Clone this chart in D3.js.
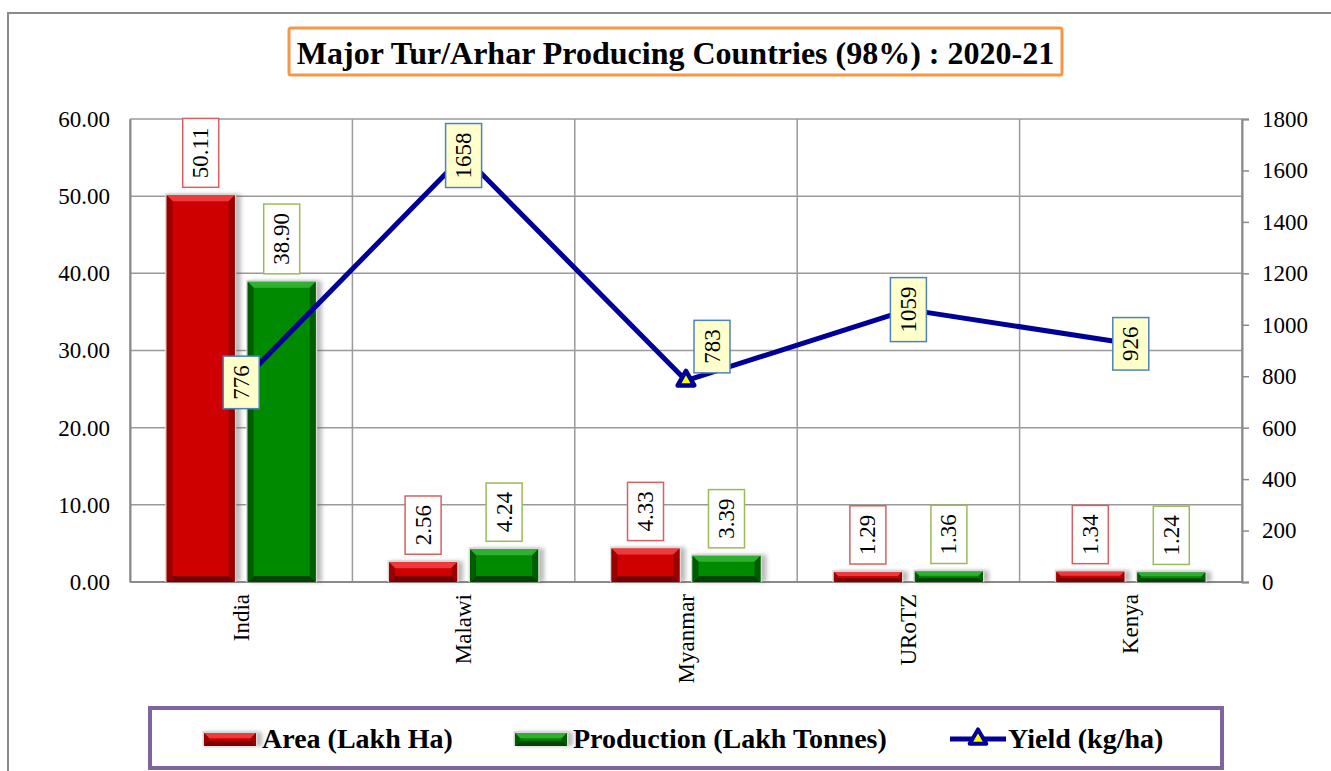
<!DOCTYPE html>
<html><head><meta charset="utf-8">
<script src="https://cdn.jsdelivr.net/npm/d3@7"></script>
<style>html,body{margin:0;padding:0;background:#fff;} svg{display:block;font-family:"Liberation Serif","Times New Roman",serif;}</style>
</head><body>
<svg id="chart" width="1331" height="771"></svg>
<script>
const titleText = "Major Tur/Arhar Producing Countries (98%) : 2020-21";
const countries = ["India", "Malawi", "Myanmar", "URoTZ", "Kenya"];
const areaValues = [50.11, 2.56, 4.33, 1.29, 1.34];
const productionValues = [38.90, 4.24, 3.39, 1.36, 1.24];
const yieldValues = [776, 1658, 783, 1059, 926];
const leftTicks = [0, 10, 20, 30, 40, 50, 60];
const rightTicks = [0, 200, 400, 600, 800, 1000, 1200, 1400, 1600, 1800];
const seriesNames = ["Area (Lakh Ha)", "Production (Lakh Tonnes)", "Yield (kg/ha)"];

const svg = d3.select("#chart");
const plot = {left: 130, right: 1242, top: 119, bottom: 582};

// outer frame
svg.append("rect").attr("x", 8).attr("y", 13).attr("width", 1400).attr("height", 900)
  .attr("fill", "none").attr("stroke", "#8a8a8a").attr("stroke-width", 2);

const x = d3.scaleBand().domain(countries).range([plot.left, plot.right]).padding(0);
const xSub = d3.scaleBand().domain(["area", "prod"]).range([0, x.bandwidth()]).paddingInner(0.16).paddingOuter(0.453);
const yL = d3.scaleLinear().domain([0, 60]).range([plot.bottom, plot.top]);
const yR = d3.scaleLinear().domain([0, 1800]).range([plot.bottom, plot.top]);

const defs = svg.append("defs");
const blur = defs.append("filter").attr("id", "shadow").attr("x", "-30%").attr("y", "-30%").attr("width", "160%").attr("height", "160%");
blur.append("feGaussianBlur").attr("stdDeviation", 2);

// gridlines
const grid = svg.append("g");
grid.selectAll("line.h").data(leftTicks).join("line")
  .attr("x1", plot.left).attr("x2", plot.right)
  .attr("y1", d => yL(d)).attr("y2", d => yL(d))
  .attr("stroke", "#9a9a9a").attr("stroke-width", 1.5);
grid.selectAll("line.v").data(countries.concat(["__end"])).join("line")
  .attr("x1", (d, i) => i < countries.length ? x(d) : plot.right)
  .attr("x2", (d, i) => i < countries.length ? x(d) : plot.right)
  .attr("y1", plot.top).attr("y2", plot.bottom)
  .attr("stroke", "#9a9a9a").attr("stroke-width", 1.5);

// axes
const axL = svg.append("g").attr("transform", `translate(${plot.left},0)`)
  .call(d3.axisLeft(yL).tickValues(leftTicks).tickSize(0).tickPadding(20).tickFormat(d3.format(".2f")));
const axR = svg.append("g").attr("transform", `translate(${plot.right},0)`)
  .call(d3.axisRight(yR).tickValues(rightTicks).tickSize(7).tickPadding(13).tickFormat(d3.format("d")));
[axL, axR].forEach(a => {
  a.attr("font-family", "Liberation Serif");
  a.select(".domain").attr("stroke", "#8a8a8a").attr("stroke-width", 2);
  a.selectAll(".tick line").attr("stroke", "#8a8a8a").attr("stroke-width", 1.5);
  a.selectAll("text").attr("font-family", "Liberation Serif").attr("font-size", 23).attr("fill", "#000");
});
// bottom axis line
svg.append("line").attr("x1", plot.left).attr("x2", plot.right).attr("y1", plot.bottom).attr("y2", plot.bottom)
  .attr("stroke", "#8a8a8a").attr("stroke-width", 2);

// category labels
svg.append("g").selectAll("text").data(countries).join("text")
  .attr("transform", d => `translate(${x(d) + x.bandwidth() / 2},594) rotate(-90)`)
  .attr("text-anchor", "end").attr("dominant-baseline", "central")
  .attr("font-size", 23).attr("fill", "#000").text(d => d);

// bars with bevel
const palettes = {
  area: {main: "#cf0000", top: "#ee3a3a", side: "#9a0000", bottom: "#7a0000", label: "#d86060"},
  prod: {main: "#008a00", top: "#30b030", side: "#005c00", bottom: "#004400", label: "#9bbb59"}
};
function drawBar(g, x0, w, yTop, yBot, pal) {
  const h = yBot - yTop;
  g.append("rect").attr("x", x0 + 2).attr("y", yTop - 1).attr("width", w + 4).attr("height", h + 1)
    .attr("fill", "#666").attr("opacity", 0.45).attr("filter", "url(#shadow)");
  g.append("rect").attr("x", x0 - 1.5).attr("y", yTop - 2).attr("width", w + 3).attr("height", h + 2)
    .attr("fill", "#d8d8d8");
  g.append("rect").attr("x", x0).attr("y", yTop).attr("width", w).attr("height", h).attr("fill", pal.main);
  const b = Math.min(6, h / 2.5);
  const x1 = x0 + w, pts = (a) => a.map(p => p.join(",")).join(" ");
  g.append("polygon").attr("points", pts([[x0, yTop], [x1, yTop], [x1 - b, yTop + b], [x0 + b, yTop + b]])).attr("fill", pal.top);
  g.append("polygon").attr("points", pts([[x0, yTop], [x0 + b, yTop + b], [x0 + b, yBot - b], [x0, yBot]])).attr("fill", pal.side);
  g.append("polygon").attr("points", pts([[x1, yTop], [x1 - b, yTop + b], [x1 - b, yBot - b], [x1, yBot]])).attr("fill", pal.side);
  g.append("polygon").attr("points", pts([[x0, yBot], [x0 + b, yBot - b], [x1 - b, yBot - b], [x1, yBot]])).attr("fill", pal.bottom);
}
const barsG = svg.append("g");
countries.forEach((c, i) => {
  drawBar(barsG, x(c) + xSub("area"), xSub.bandwidth(), yL(areaValues[i]), yL(0), palettes.area);
  drawBar(barsG, x(c) + xSub("prod"), xSub.bandwidth(), yL(productionValues[i]), yL(0), palettes.prod);
});

// rotated label boxes
function labelBox(g, cx, cy, text, stroke, fill, anchorBottom) {
  const grp = g.append("g");
  const t = grp.append("text").attr("font-size", 23).attr("fill", "#000")
    .attr("text-anchor", "middle").attr("dominant-baseline", "central").text(text);
  const len = t.node().getComputedTextLength();
  const bh = len + 18, bw = 36;
  const centerY = anchorBottom ? cy - bh / 2 : cy;
  grp.insert("rect", "text").attr("x", cx - bw / 2).attr("y", centerY - bh / 2).attr("width", bw).attr("height", bh)
    .attr("fill", fill).attr("stroke", stroke).attr("stroke-width", 1.5);
  t.attr("transform", `translate(${cx},${centerY}) rotate(-90)`);
}
const labG = svg.append("g");
countries.forEach((c, i) => {
  labelBox(labG, x(c) + xSub("area") + xSub.bandwidth() / 2, yL(areaValues[i]) - 8, d3.format(".2f")(areaValues[i]), palettes.area.label, "#fff", true);
  labelBox(labG, x(c) + xSub("prod") + xSub.bandwidth() / 2, yL(productionValues[i]) - 8, d3.format(".2f")(productionValues[i]), palettes.prod.label, "#fff", true);
});

// yield line
const cx = c => x(c) + x.bandwidth() / 2;
const lineColor = "#000099";
svg.append("path").datum(yieldValues)
  .attr("d", d3.line().x((d, i) => cx(countries[i])).y(d => yR(d)))
  .attr("fill", "none").attr("stroke", lineColor).attr("stroke-width", 5).attr("stroke-linejoin", "round");
const tri = d3.symbol().type(d3.symbolTriangle).size(120);
svg.append("g").selectAll("path").data(yieldValues).join("path")
  .attr("transform", (d, i) => `translate(${cx(countries[i])},${yR(d)})`)
  .attr("d", tri).attr("fill", "#ffff00").attr("stroke", lineColor).attr("stroke-width", 4.5).attr("stroke-linejoin", "round");

// yield labels (Myanmar label was moved right/up in the original)
const yieldLabelShift = {Myanmar: [26, -34]};
const yLabG = svg.append("g");
countries.forEach((c, i) => {
  const s = yieldLabelShift[c] || [0, 0];
  labelBox(yLabG, cx(c) + s[0], yR(yieldValues[i]) + s[1], String(yieldValues[i]), "#4f81bd", "#ffffcc", false);
});

// title
svg.append("rect").attr("x", 289).attr("y", 28).attr("width", 773).attr("height", 47).attr("rx", 2)
  .attr("fill", "#fff").attr("stroke", "#f79646").attr("stroke-width", 3);
svg.append("text").attr("x", 675.5).attr("y", 64).attr("text-anchor", "middle")
  .attr("font-size", 32).attr("font-weight", "bold").attr("fill", "#000").text(titleText);

// legend
svg.append("rect").attr("x", 150).attr("y", 708).attr("width", 1072).attr("height", 60)
  .attr("fill", "#fff").attr("stroke", "#8064a2").attr("stroke-width", 4);
const legG = svg.append("g");
const legendItems = [
  {name: seriesNames[0], type: "area", sx: 204, tx: 262},
  {name: seriesNames[1], type: "prod", sx: 515, tx: 573},
  {name: seriesNames[2], type: "line", sx: 950, tx: 1008}
];
legendItems.forEach(it => {
  if (it.type === "line") {
    legG.append("line").attr("x1", it.sx).attr("x2", it.sx + 56).attr("y1", 739).attr("y2", 739)
      .attr("stroke", lineColor).attr("stroke-width", 5);
    legG.append("path").attr("transform", `translate(${it.sx + 28},739)`).attr("d", tri)
      .attr("fill", "#ffff00").attr("stroke", lineColor).attr("stroke-width", 4).attr("stroke-linejoin", "round");
  } else {
    drawBar(legG, it.sx, 52, 733, 746, palettes[it.type]);
  }
  legG.append("text").attr("x", it.tx).attr("y", 748).attr("font-size", 28).attr("font-weight", "bold")
    .attr("fill", "#000").text(it.name);
});
</script>
</body></html>
